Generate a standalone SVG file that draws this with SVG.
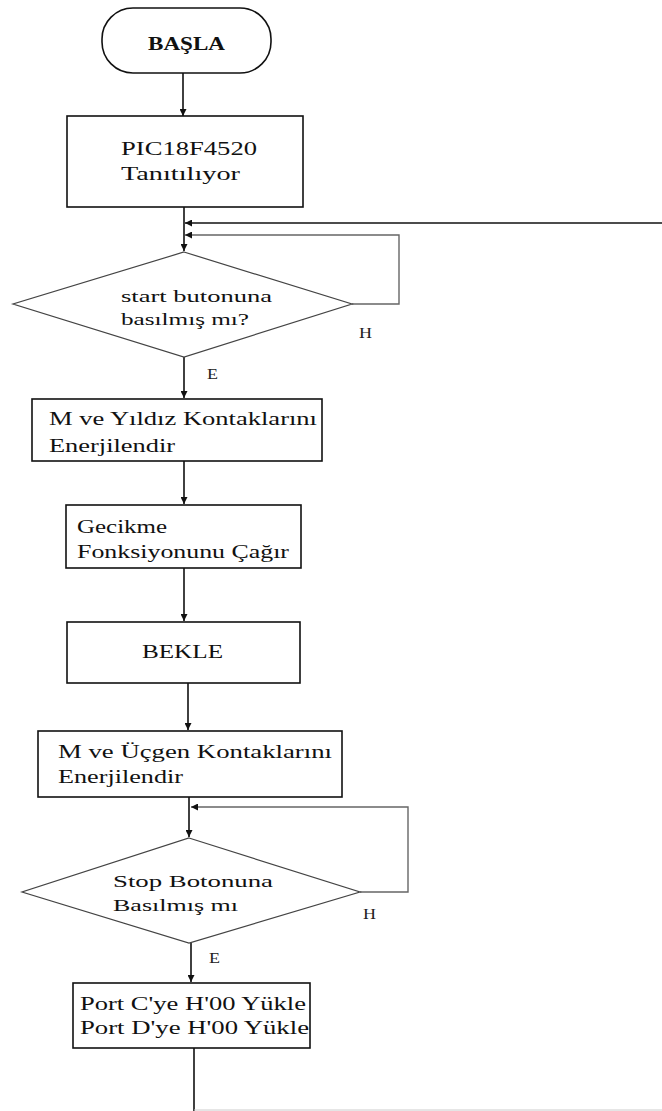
<svg xmlns="http://www.w3.org/2000/svg" width="662" height="1111" viewBox="0 0 662 1111">
<style>
.box{fill:#fff;stroke:#111;stroke-width:1.6}
.dia{fill:#fff;stroke:#444;stroke-width:1.2}
.ln{fill:none;stroke:#111;stroke-width:1.6}
.lp{fill:none;stroke:#666;stroke-width:1.4}
text{font-family:'Liberation Serif','DejaVu Serif','Times New Roman',serif;fill:#111}
.t{font-size:18px}
.s{font-size:16px}
.lbl{font-size:15px;fill:#222}
</style>
<defs>
<marker id="ah" viewBox="0 0 10 10" refX="10" refY="5" markerWidth="7" markerHeight="7" markerUnits="userSpaceOnUse" orient="auto">
<path d="M0,0 L10,5 L0,10 z" fill="#111"/>
</marker>
</defs>
<rect width="662" height="1111" fill="#fff"/>
<g id="connectors" font-family="Liberation Serif, DejaVu Serif, serif">
<line class="ln" x1="183" y1="73" x2="183" y2="116" marker-end="url(#ah)"/>
<line class="ln" x1="184" y1="207" x2="184" y2="251" marker-end="url(#ah)"/>
<line class="ln" x1="662" y1="223" x2="185" y2="223" marker-end="url(#ah)"/>
<polyline class="lp" points="352,304 399,304 399,235 185,235" marker-end="url(#ah)"/>
<line class="ln" x1="184" y1="357" x2="184" y2="398" marker-end="url(#ah)"/>
<line class="ln" x1="184" y1="461" x2="184" y2="504" marker-end="url(#ah)"/>
<line class="ln" x1="184" y1="568" x2="184" y2="621" marker-end="url(#ah)"/>
<line class="ln" x1="188" y1="683" x2="188" y2="730" marker-end="url(#ah)"/>
<line class="ln" x1="189" y1="797" x2="189" y2="837" marker-end="url(#ah)"/>
<polyline class="lp" points="360,892 408,892 408,807 191,807" marker-end="url(#ah)"/>
<line class="ln" x1="191" y1="943" x2="191" y2="982" marker-end="url(#ah)"/>
<line class="ln" x1="194" y1="1048" x2="194" y2="1111"/>
<line x1="194" y1="1110" x2="662" y2="1110" stroke="#ccc" stroke-width="1"/>
<text class="lbl" x="359" y="338" textLength="13" lengthAdjust="spacingAndGlyphs">H</text>
<text class="lbl" x="207" y="379" textLength="11" lengthAdjust="spacingAndGlyphs">E</text>
<text class="lbl" x="363" y="919" textLength="13" lengthAdjust="spacingAndGlyphs">H</text>
<text class="lbl" x="209" y="963" textLength="11" lengthAdjust="spacingAndGlyphs">E</text>
</g>
<g id="basla" font-family="Liberation Serif, DejaVu Serif, serif">
<rect class="box" x="102" y="8" width="169" height="65" rx="31" ry="31" stroke-width="1.3"/>
<text class="t" x="148" y="50" textLength="77" lengthAdjust="spacingAndGlyphs" font-weight="bold" font-size="16">BAŞLA</text>
</g>
<g id="pic" font-family="Liberation Serif, DejaVu Serif, serif">
<rect class="box" x="67" y="116" width="236" height="91"/>
<text class="t" x="121" y="155" textLength="136" lengthAdjust="spacingAndGlyphs">PIC18F4520</text>
<text class="t" x="121" y="180" textLength="119" lengthAdjust="spacingAndGlyphs">Tanıtılıyor</text>
</g>
<g id="start" font-family="Liberation Serif, DejaVu Serif, serif">
<polygon class="dia" points="184,252 352,304 184,357 13,304"/>
<text class="s" x="121" y="302" textLength="151" lengthAdjust="spacingAndGlyphs">start butonuna</text>
<text class="s" x="121" y="325" textLength="128" lengthAdjust="spacingAndGlyphs">basılmış mı?</text>
</g>
<g id="yildiz" font-family="Liberation Serif, DejaVu Serif, serif">
<rect class="box" x="32" y="399" width="290" height="62"/>
<text class="t" x="49" y="425" textLength="268" lengthAdjust="spacingAndGlyphs">M ve Yıldız Kontaklarını</text>
<text class="t" x="49" y="452" textLength="126" lengthAdjust="spacingAndGlyphs">Enerjilendir</text>
</g>
<g id="gecikme" font-family="Liberation Serif, DejaVu Serif, serif">
<rect class="box" x="66" y="505" width="235" height="63"/>
<text class="t" x="77" y="533" textLength="90" lengthAdjust="spacingAndGlyphs">Gecikme</text>
<text class="t" x="77" y="558" textLength="212" lengthAdjust="spacingAndGlyphs">Fonksiyonunu Çağır</text>
</g>
<g id="bekle" font-family="Liberation Serif, DejaVu Serif, serif">
<rect class="box" x="67" y="622" width="233" height="61"/>
<text class="t" x="142" y="658" textLength="81" lengthAdjust="spacingAndGlyphs">BEKLE</text>
</g>
<g id="ucgen" font-family="Liberation Serif, DejaVu Serif, serif">
<rect class="box" x="38" y="731" width="304" height="66"/>
<text class="t" x="58" y="758" textLength="274" lengthAdjust="spacingAndGlyphs">M ve Üçgen Kontaklarını</text>
<text class="t" x="58" y="783" textLength="125" lengthAdjust="spacingAndGlyphs">Enerjilendir</text>
</g>
<g id="stop" font-family="Liberation Serif, DejaVu Serif, serif">
<polygon class="dia" points="189,838 360,892 189,943 22,892"/>
<text class="s" x="113" y="887" textLength="160" lengthAdjust="spacingAndGlyphs">Stop Botonuna</text>
<text class="s" x="113" y="911" textLength="125" lengthAdjust="spacingAndGlyphs">Basılmış mı</text>
</g>
<g id="port" font-family="Liberation Serif, DejaVu Serif, serif">
<rect class="box" x="73" y="983" width="237" height="65"/>
<text class="t" x="80" y="1010" textLength="226" lengthAdjust="spacingAndGlyphs">Port C'ye H'00 Yükle</text>
<text class="t" x="80" y="1034" textLength="229" lengthAdjust="spacingAndGlyphs">Port D'ye H'00 Yükle</text>
</g>
</svg>
